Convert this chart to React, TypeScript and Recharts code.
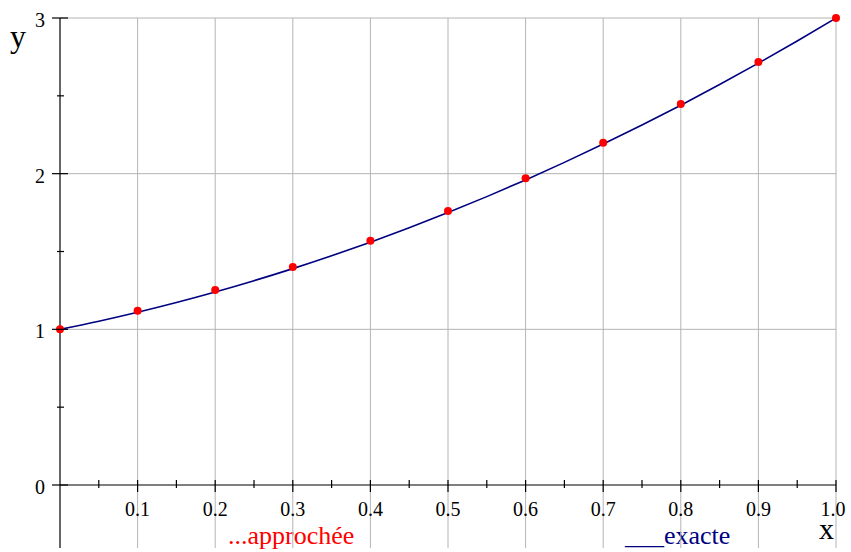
import React from 'react';
import {
  ComposedChart,
  Line,
  Scatter,
  XAxis,
  YAxis,
  ReferenceLine,
  Customized,
} from 'recharts';

// x ticks every 0.05 (labels only on the tenths)
const xTicks = [0, 0.05, 0.1, 0.15, 0.2, 0.25, 0.3, 0.35, 0.4, 0.45, 0.5, 0.55, 0.6, 0.65, 0.7, 0.75, 0.8, 0.85, 0.9, 0.95, 1];
const yTicks = [0, 0.5, 1, 1.5, 2, 2.5, 3];
const gridX = [0.1, 0.2, 0.3, 0.4, 0.5, 0.6, 0.7, 0.8, 0.9, 1];
const gridY = [1, 2, 3];

// solution "exacte"
const exactX = [0, 0.05, 0.1, 0.15, 0.2, 0.25, 0.3, 0.35, 0.4, 0.45, 0.5, 0.55, 0.6, 0.65, 0.7, 0.75, 0.8, 0.85, 0.9, 0.95, 1];
const exactY = [1, 1.0525, 1.11, 1.1725, 1.24, 1.3125, 1.39, 1.4725, 1.56, 1.6525, 1.75, 1.8525, 1.96, 2.0725, 2.19, 2.3125, 2.44, 2.5725, 2.71, 2.8525, 3];

// solution "approchée"
const approxX = [0, 0.1, 0.2, 0.3, 0.4, 0.5, 0.6, 0.7, 0.8, 0.9, 1];
const approxY = [1, 1.12, 1.253, 1.4, 1.569, 1.76, 1.97, 2.199, 2.447, 2.717, 3];

const exactData = exactX.map((x, i) => ({ x, y: exactY[i] }));
const approxData = approxX.map((x, i) => ({ x, y: approxY[i] }));

const SERIF = "'Liberation Serif', 'Times New Roman', serif";
const GRID = '#b4b4b4';
const AXIS_LOW = -0.405; // axis and grid run a bit below y = 0

const XTick = (props: any) => {
  const { x, y, payload } = props;
  const v = payload.value;
  if (v === 0) return null;
  const major = Math.round(v * 20) % 2 === 0;
  return (
    <g>
      <line x1={x} x2={x} y1={y - 5} y2={y + (major ? 7 : 3)} stroke="#000" strokeWidth={1.2} />
      {major && (
        <text x={v === 1 ? x - 3 : x} y={y + 31} textAnchor="middle" fontFamily={SERIF} fontSize={20} fill="#000">
          {v.toFixed(1)}
        </text>
      )}
    </g>
  );
};

const YTick = (props: any) => {
  const { x, y, payload } = props;
  const v = payload.value;
  const major = Number.isInteger(v);
  return (
    <g>
      <line x1={major ? x - 8 : x - 3} x2={major ? x + 8 : x + 4} y1={y} y2={y} stroke="#000" strokeWidth={1.2} />
      {major && (
        <text x={x - 15} y={y + 9} textAnchor="end" fontFamily={SERIF} fontSize={20} fill="#000">
          {v}
        </text>
      )}
    </g>
  );
};

const Dot = (props: any) => <circle cx={props.cx} cy={props.cy} r={4} fill="#ff0000" />;

const Labels = () => (
  <g>
    <text x={10} y={47} fontFamily={SERIF} fontSize={32} fill="#000">y</text>
    <text x={819} y={539} fontFamily={SERIF} fontSize={30} fill="#000">x</text>
    <text x={228} y={544} fontFamily={SERIF} fontSize={26} fill="#ff0000">...approchée</text>
    <text x={625} y={544} fontFamily={SERIF} fontSize={26} fill="#000080">___exacte</text>
  </g>
);

export default function App() {
  return (
    <div style={{ position: 'absolute', left: 0, top: 0, background: '#fff' }}>
      <ComposedChart width={851} height={552} margin={{ top: 18, right: 15, left: 0, bottom: 0 }}>
        <XAxis
          type="number"
          dataKey="x"
          domain={[0, 1]}
          ticks={xTicks}
          interval={0}
          height={67}
          tickSize={0}
          tickMargin={0}
          tickLine={false}
          axisLine={{ stroke: '#000', strokeWidth: 1.2 }}
          tick={<XTick />}
        />
        <YAxis
          type="number"
          domain={[0, 3]}
          ticks={yTicks}
          interval={0}
          width={60}
          tickSize={0}
          tickMargin={0}
          tickLine={false}
          axisLine={false}
          tick={<YTick />}
        />
        {gridY.map((v) => (
          <ReferenceLine key={'gy' + v} y={v} stroke={GRID} strokeWidth={1} />
        ))}
        {gridX.map((v) => (
          <ReferenceLine
            key={'gx' + v}
            segment={[{ x: v, y: AXIS_LOW }, { x: v, y: 3 }]}
            stroke={GRID}
            strokeWidth={1}
            ifOverflow="visible"
          />
        ))}
        <ReferenceLine
          segment={[{ x: 0, y: AXIS_LOW }, { x: 0, y: 3 }]}
          stroke="#000"
          strokeWidth={1.2}
          ifOverflow="visible"
        />
        <Line
          data={exactData}
          dataKey="y"
          type="monotone"
          stroke="#000080"
          strokeWidth={1.6}
          dot={false}
          isAnimationActive={false}
        />
        <Scatter data={approxData} dataKey="y" shape={<Dot />} isAnimationActive={false} />
        <Customized component={Labels} />
      </ComposedChart>
    </div>
  );
}
